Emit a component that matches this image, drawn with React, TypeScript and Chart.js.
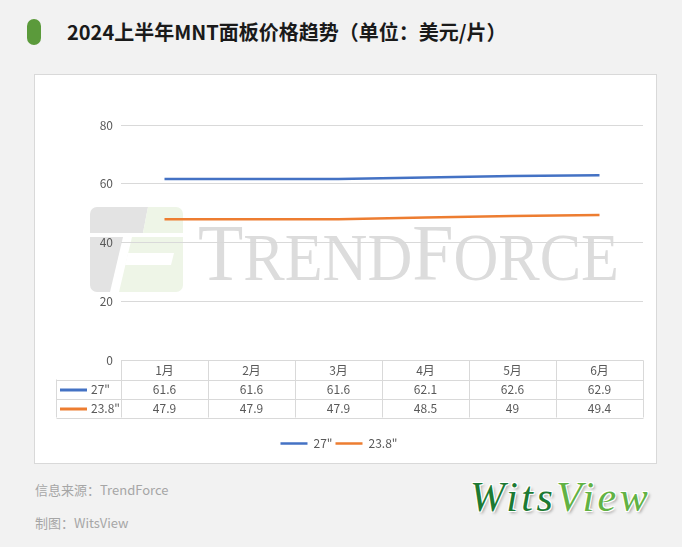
import React, { useEffect, useRef } from "react";
import { Chart, registerables } from "chart.js";

Chart.register(...registerables);

// ---- data ----
const months = ["1月", "2月", "3月", "4月", "5月", "6月"];
const seriesNames = ['27"', '23.8"'];
const values27 = [61.6, 61.6, 61.6, 62.1, 62.6, 62.9];
const values238 = [47.9, 47.9, 47.9, 48.5, 49, 49.4];
const yTickValues = [0, 20, 40, 60, 80];

const FONT = '"Noto Sans CJK SC", "Noto Sans", sans-serif';
const TEXT = "#595959";
const GRID = "#d9d9d9";

const watermarkPlugin = {
  id: "watermark",
  beforeDraw(chart: any) {
    const ctx = chart.ctx as CanvasRenderingContext2D;
    ctx.save();
    // logo
    const ox = 55, oy = 132, w = 93, h = 85, r = 7;
    ctx.beginPath();
    ctx.moveTo(ox + r, oy);
    ctx.arcTo(ox + w, oy, ox + w, oy + h, r);
    ctx.arcTo(ox + w, oy + h, ox, oy + h, r);
    ctx.arcTo(ox, oy + h, ox, oy, r);
    ctx.arcTo(ox, oy, ox + w, oy, r);
    ctx.closePath();
    ctx.clip();
    const poly = (pts: number[][], color: string) => {
      ctx.beginPath();
      pts.forEach(([x, y], i) => (i ? ctx.lineTo(ox + x, oy + y) : ctx.moveTo(ox + x, oy + y)));
      ctx.closePath();
      ctx.fillStyle = color;
      ctx.fill();
    };
    const gray = "#e3e3e3";
    const green = "#eef5e7";
    poly([[0, 0], [58, 0], [53, 26], [0, 26]], gray);
    poly([[58, 0], [93, 0], [93, 26], [53, 26]], green);
    poly([[0, 30], [33, 30], [20, 85], [0, 85]], gray);
    poly([[42, 30], [93, 30], [93, 85], [29, 85]], green);
    poly([[38, 46], [84, 46], [81, 58], [35, 58]], "#ffffff");
    ctx.restore();

    // TRENDFORCE text
    ctx.save();
    const big = '80px "Liberation Serif", "DejaVu Serif", serif';
    const small = '67px "Liberation Serif", "DejaVu Serif", serif';
    const parts: [string, string][] = [["T", big], ["REND", small], ["F", big], ["ORCE", small]];
    let total = 0;
    const widths = parts.map(([t, f]) => {
      ctx.font = f;
      const m = ctx.measureText(t).width;
      total += m;
      return m;
    });
    const sx = 421 / total;
    ctx.translate(163, 205);
    ctx.scale(sx, 1);
    ctx.fillStyle = "#dcdcdc";
    ctx.textBaseline = "alphabetic";
    let x = 0;
    parts.forEach(([t, f], i) => {
      ctx.font = f;
      ctx.fillText(t, x, 0);
      x += widths[i];
    });
    ctx.restore();
  },
};

const tablePlugin = {
  id: "dataTable",
  afterDraw(chart: any) {
    const ctx = chart.ctx as CanvasRenderingContext2D;
    const a = chart.chartArea;
    const xs = chart.scales.x;
    const labels: string[] = chart.data.labels;
    const n = labels.length;
    const colW = (a.right - a.left) / n;
    const rowH = 19;
    const top = Math.round(a.bottom) + 0.5;
    const left = Math.round(a.left) + 0.5;
    const right = Math.round(a.right) + 0.5;
    const labelLeft = left - 65;
    const rows = chart.data.datasets.length;
    const bottom = top + rowH * (rows + 1);

    ctx.save();
    ctx.strokeStyle = GRID;
    ctx.lineWidth = 1;
    ctx.beginPath();
    ctx.moveTo(left, top);
    ctx.lineTo(right, top);
    for (let r = 1; r <= rows + 1; r++) {
      const y = Math.round(top + rowH * r) + 0.5;
      ctx.moveTo(labelLeft, y);
      ctx.lineTo(right, y);
    }
    for (let i = 0; i <= n; i++) {
      const x = Math.round(a.left + colW * i) + 0.5;
      ctx.moveTo(x, top);
      ctx.lineTo(x, bottom);
    }
    ctx.moveTo(labelLeft, top + rowH);
    ctx.lineTo(labelLeft, bottom);
    ctx.stroke();

    ctx.font = `12px ${FONT}`;
    ctx.fillStyle = TEXT;
    ctx.textAlign = "center";
    ctx.textBaseline = "middle";
    labels.forEach((lab, i) => {
      const cx = xs.getPixelForValue(i);
      ctx.fillText(lab, cx, top + rowH / 2 + 0.5);
    });
    chart.data.datasets.forEach((ds: any, r: number) => {
      const cy = top + rowH * (r + 1) + rowH / 2 + 0.5;
      ds.data.forEach((v: number, i: number) => {
        const cx = xs.getPixelForValue(i);
        ctx.fillStyle = TEXT;
        ctx.textAlign = "center";
        ctx.fillText(String(v), cx, cy);
      });
      ctx.strokeStyle = ds.borderColor;
      ctx.lineWidth = 3;
      ctx.beginPath();
      ctx.moveTo(labelLeft + 3.5, Math.round(cy));
      ctx.lineTo(labelLeft + 30.5, Math.round(cy));
      ctx.stroke();
      ctx.fillStyle = TEXT;
      ctx.textAlign = "left";
      ctx.fillText(ds.label, labelLeft + 34.5, cy);
    });
    ctx.restore();
  },
};

function LineChart() {
  const ref = useRef<HTMLCanvasElement | null>(null);
  useEffect(() => {
    if (!ref.current) return;
    const chart = new Chart(ref.current, {
      type: "line",
      data: {
        labels: months,
        datasets: [
          {
            label: seriesNames[0],
            data: values27,
            borderColor: "#4472C4",
            backgroundColor: "#4472C4",
            borderWidth: 2.5,
            pointRadius: 0,
            pointStyle: "line",
            tension: 0,
          },
          {
            label: seriesNames[1],
            data: values238,
            borderColor: "#ED7D31",
            backgroundColor: "#ED7D31",
            borderWidth: 2.5,
            pointRadius: 0,
            pointStyle: "line",
            tension: 0,
          },
        ],
      },
      options: {
        responsive: false,
        animation: false,
        devicePixelRatio: 1,
        layout: { padding: { top: 50, right: 13, bottom: 3.5, left: 0 } },
        plugins: {
          legend: {
            position: "bottom",
            labels: {
              usePointStyle: true,
              pointStyleWidth: 27,
              padding: 3,
              color: TEXT,
              font: { family: FONT, size: 12 },
            },
          },
          tooltip: { enabled: false },
        },
        scales: {
          x: {
            type: "category",
            offset: true,
            ticks: { display: false },
            grid: { display: false },
            border: { display: false },
            afterFit: (s: any) => {
              s.height = 74.5;
            },
          },
          y: {
            min: yTickValues[0],
            max: yTickValues[yTickValues.length - 1],
            afterBuildTicks: (s: any) => {
              s.ticks = yTickValues.map((v) => ({ value: v }));
            },
            ticks: {
              padding: 8,
              color: TEXT,
              font: { family: FONT, size: 12 },
            },
            grid: { color: GRID, drawTicks: false },
            border: { display: false },
            afterFit: (s: any) => {
              s.width = 86;
            },
          },
        },
      },
      plugins: [watermarkPlugin, tablePlugin],
    } as any);
    return () => chart.destroy();
  }, []);
  return <canvas ref={ref} width={621} height={388} style={{ display: "block", width: 621, height: 388 }} />;
}

export default function App() {
  return (
    <div
      style={{
        position: "absolute",
        left: 0,
        top: 0,
        width: 682,
        height: 547,
        background: "#f2f2f2",
        fontFamily: FONT,
        overflow: "hidden",
      }}
    >
      <div
        style={{
          position: "absolute",
          left: 27,
          top: 19,
          width: 14,
          height: 26,
          borderRadius: 7,
          background: "#5b9a3b",
        }}
      />
      <div
        style={{
          position: "absolute",
          left: 67,
          top: 18,
          height: 28,
          lineHeight: "28px",
          fontSize: 20,
          fontWeight: 700,
          color: "#1a1a1a",
          whiteSpace: "nowrap",
        }}
      >
        2024上半年MNT面板价格趋势（单位：美元/片）
      </div>
      <div
        style={{
          position: "absolute",
          left: 34,
          top: 74,
          width: 623,
          height: 390,
          boxSizing: "border-box",
          border: "1px solid #d9d9d9",
          background: "#ffffff",
        }}
      >
        <LineChart />
      </div>
      <div
        style={{
          position: "absolute",
          left: 35,
          top: 481,
          lineHeight: "18px",
          fontSize: 13,
          color: "#a6a6a6",
          whiteSpace: "nowrap",
        }}
      >
        信息来源：TrendForce
      </div>
      <div
        style={{
          position: "absolute",
          left: 35,
          top: 514,
          lineHeight: "18px",
          fontSize: 13,
          color: "#a6a6a6",
          whiteSpace: "nowrap",
        }}
      >
        制图：WitsView
      </div>
      <div
        style={{
          position: "absolute",
          left: 470,
          top: 473,
          lineHeight: "48px",
          fontSize: 42,
          fontStyle: "italic",
          fontFamily: '"Liberation Serif", "DejaVu Serif", serif',
          letterSpacing: 3.5,
          whiteSpace: "nowrap",
          textShadow:
            "1px 1px 0 #fff, -1px -1px 0 #fff, 1px -1px 0 #fff, -1px 1px 0 #fff, 2px 2px 3px rgba(0,0,0,0.35)",
        }}
      >
        <span style={{ color: "#1d7a33" }}>Wits</span>
        <span style={{ color: "#62b244" }}>View</span>
      </div>
    </div>
  );
}
